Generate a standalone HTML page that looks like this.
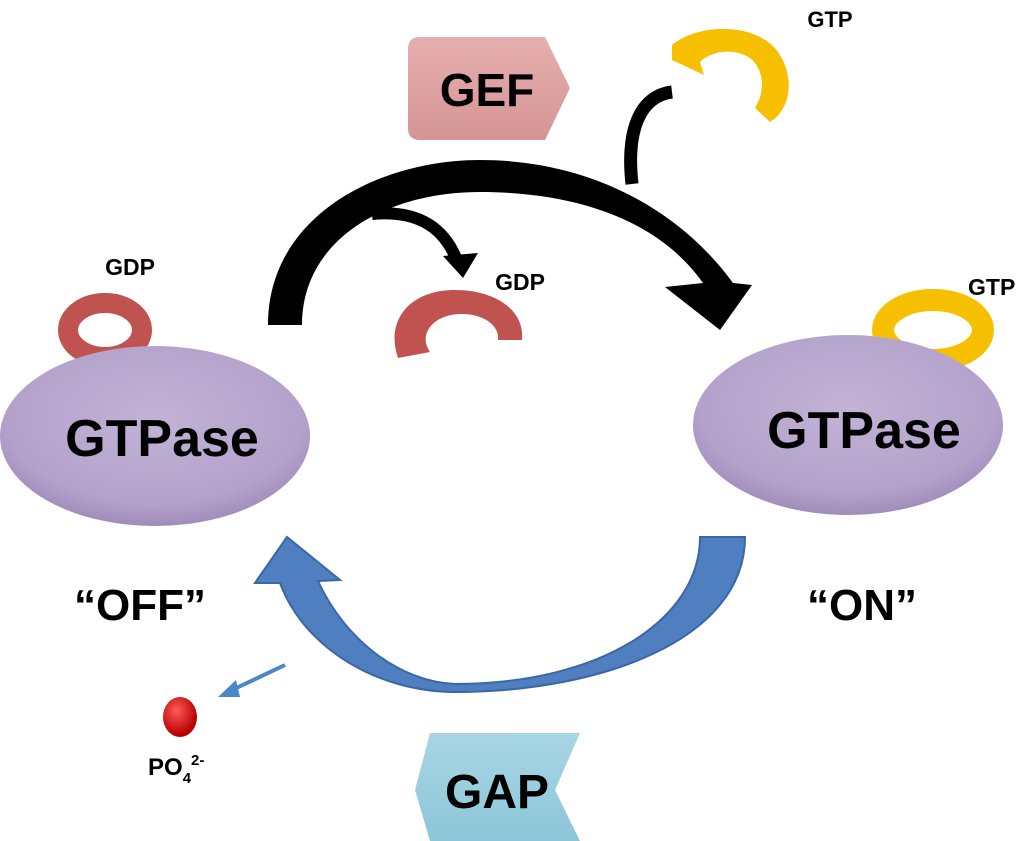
<!DOCTYPE html>
<html><head><meta charset="utf-8"><style>
html,body{margin:0;padding:0;background:#fff;}
svg{display:block;}
text{font-family:"Liberation Sans",sans-serif;font-weight:bold;fill:#000;}
</style></head><body>
<svg width="1024" height="841" viewBox="0 0 1024 841" xmlns="http://www.w3.org/2000/svg">
<defs>
<radialGradient id="purp" cx="50%" cy="40%" r="60%">
<stop offset="0%" stop-color="#c2b3d6"/><stop offset="80%" stop-color="#b3a1cb"/><stop offset="100%" stop-color="#9f8cba"/></radialGradient>
<linearGradient id="gef" x1="0" y1="0" x2="0" y2="1"><stop offset="0" stop-color="#e6aeae"/><stop offset="1" stop-color="#d59595"/></linearGradient>
<linearGradient id="gap" x1="0" y1="0" x2="0" y2="1"><stop offset="0" stop-color="#a8d6e4"/><stop offset="1" stop-color="#8cc6d8"/></linearGradient>
<radialGradient id="ball" cx="40%" cy="35%" r="60%"><stop offset="0" stop-color="#ff5a5a"/><stop offset="1" stop-color="#b80000"/></radialGradient>
</defs>

<!-- GEF -->
<path d="M420,37 L545,37 L570,88 L545,140 L420,140 Q408,140 408,128 L408,49 Q408,37 420,37 Z" fill="url(#gef)"/>
<text x="487" y="106" font-size="46" text-anchor="middle">GEF</text>

<!-- top GTP -->
<path d="M672,45 C700,22 760,22 780,55 C795,80 790,110 770,122 L755,108 C765,92 765,70 750,58 C735,48 712,50 700,62 L704,75 L672,60 Z" fill="#f6c000"/>
<text x="830" y="27" font-size="22" text-anchor="middle">GTP</text>

<!-- GTP branch -->
<path d="M632,184 C626,130 640,96 672,92" fill="none" stroke="#000" stroke-width="13"/>

<!-- big black arrow -->
<path d="M268,325 C268,215 380,160 480,160 C590,160 680,210 733,283 L752,285 L720,330 L665,287 L703,283 C660,222 580,192 480,192 C385,192 302,240 302,325 Z" fill="#000"/>
<!-- small black arrow -->
<path d="M372,214 C415,210 442,225 456,258" fill="none" stroke="#000" stroke-width="12"/>
<path d="M443,256 L478,253 L463,278 Z" fill="#000"/>

<!-- left GDP donut -->
<ellipse cx="105" cy="330" rx="37" ry="27" fill="none" stroke="#c0534f" stroke-width="20"/>
<text x="130" y="275" font-size="23" text-anchor="middle">GDP</text>

<!-- middle GDP crescent -->
<path d="M398,358 C385,320 410,290 455,290 C495,290 525,310 522,340 L498,340 C500,325 482,313 460,314 C432,315 418,335 430,352 Z" fill="#c0534f"/>
<text x="520" y="290" font-size="23" text-anchor="middle">GDP</text>

<!-- right GTP donut -->
<ellipse cx="933" cy="330" rx="50" ry="30" fill="none" stroke="#f6c000" stroke-width="22"/>
<text x="968" y="295" font-size="23">GTP</text>

<!-- ellipses -->
<ellipse cx="155" cy="436" rx="155" ry="90" fill="url(#purp)"/>
<text x="162" y="456" font-size="52" text-anchor="middle">GTPase</text>
<ellipse cx="848" cy="425" rx="155" ry="90" fill="url(#purp)"/>
<text x="864" y="448" font-size="52" text-anchor="middle">GTPase</text>

<text x="140" y="620" font-size="44" text-anchor="middle">“OFF”</text>
<text x="862" y="620" font-size="44" text-anchor="middle">“ON”</text>

<!-- blue arrow -->
<path d="M745,537 C745,640 600,692 455,692 C380,692 305,650 280,583 L255,583 L287,537 L340,580 L318,581 C345,640 400,682 455,684 C600,684 700,620 700,537 Z" fill="#4f7fc0" stroke="#3b67a3" stroke-width="2"/>

<!-- small blue arrow -->
<line x1="285" y1="665" x2="232" y2="690" stroke="#4a86c8" stroke-width="4"/>
<path d="M218,697 L236,680 L240,697 Z" fill="#4a86c8"/>

<!-- phosphate -->
<ellipse cx="180" cy="717" rx="17" ry="20" fill="url(#ball)"/>
<text x="148" y="775" font-size="24">PO<tspan font-size="15" dy="8">4</tspan><tspan font-size="15" dy="-18">2-</tspan></text>

<!-- GAP -->
<path d="M430,733 L580,733 L555,790 L580,841 L430,841 L415,790 Z" fill="url(#gap)"/>
<text x="497" y="808" font-size="48" text-anchor="middle">GAP</text>
</svg>
</body></html>
